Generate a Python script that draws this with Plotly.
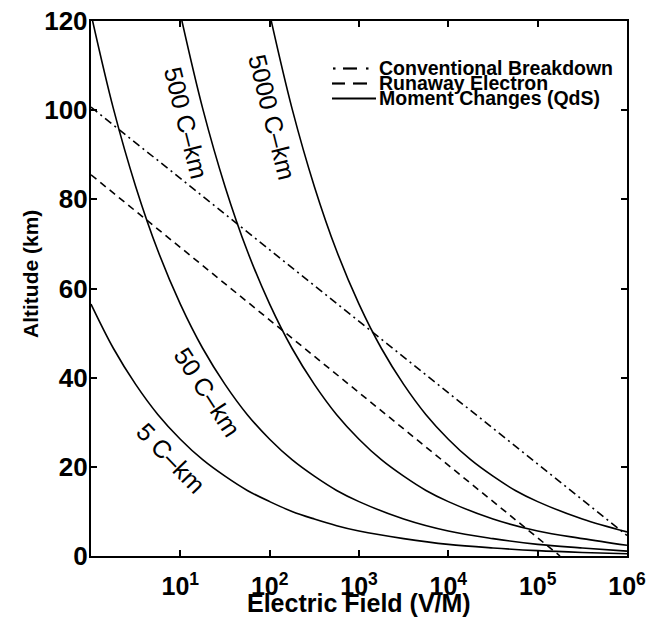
import math
import plotly.graph_objects as go

# ---- data ----
# Moment change curves (altitude in km vs electric field in V/m)
qds5_E = [1, 1.778, 3.162, 5.623, 10, 17.78, 31.62, 56.23, 100, 177.8, 316.2, 562.3,
          1000, 3162, 1e4, 3.162e4, 1e5, 3.162e5, 1e6]
qds5_h = [56.5, 46.6, 38.5, 31.7, 26.2, 21.6, 17.9, 14.7, 12.2, 10.0, 8.3, 6.8,
          5.6, 3.9, 2.6, 1.8, 1.2, 0.8, 0.5]

qds50_E = [1, 1.778, 3.162, 5.623, 10, 17.78, 31.62, 56.23, 100, 177.8, 316.2, 562.3,
           1000, 3162, 1e4, 3.162e4, 1e5, 3.162e5, 1e6]
qds50_h = [121.6, 100.4, 82.9, 68.4, 56.5, 46.6, 38.5, 31.7, 26.2, 21.6, 17.9, 14.7,
           12.2, 8.3, 5.6, 3.9, 2.6, 1.8, 1.1]

qds500_E = [10, 17.78, 31.62, 56.23, 100, 177.8, 316.2, 562.3, 1000, 1778, 3162, 5623,
            1e4, 3.162e4, 1e5, 3.162e5, 1e6]
qds500_h = [121.6, 100.4, 82.9, 68.4, 56.5, 46.6, 38.5, 31.7, 26.2, 21.6, 17.9, 14.7,
            12.2, 8.3, 5.6, 3.9, 2.4]

qds5000_E = [100, 177.8, 316.2, 562.3, 1000, 1778, 3162, 5623, 1e4, 1.778e4, 3.162e4,
             5.623e4, 1e5, 3.162e5, 1e6]
qds5000_h = [121.6, 100.4, 82.9, 68.4, 56.5, 46.6, 38.5, 31.7, 26.2, 21.6, 17.9,
             14.7, 12.2, 8.3, 5.4]

# Threshold lines
conv_E = [1, 1e6]
conv_h = [100.7, 4.6]
runaway_E = [1, 1.78e5]
runaway_h = [85.5, 0.0]

# Curve labels: text, field, altitude, angle
label_text = ["500 C\u2013km", "5000 C\u2013km", "50 C\u2013km", "5 C\u2013km"]
label_E = [11.6, 106, 20.0, 7.9]
label_h = [97.1, 98.4, 36.7, 22.0]
label_angle = [76, 76, 57, 46]

# Axis ticks
x_tickvals = [10, 100, 1000, 1e4, 1e5, 1e6]
x_ticktext = ["10<sup>1</sup>", "10<sup>2</sup>", "10<sup>3</sup>",
              "10<sup>4</sup>", "10<sup>5</sup>", "10<sup>6</sup>"]
y_tickvals = [0, 20, 40, 60, 80, 100, 120]

x_title = "Electric Field (V/M)"
y_title = "Altitude (km)"

# Legend entries
legend_text = ["Conventional Breakdown", "Runaway Electron", "Moment Changes (QdS)"]

FONT = "Liberation Sans, Arial, Helvetica, sans-serif"
LW = 1.6

# The page body adds an 8px offset; figure is sized so that the plot area
# lands at screen x 91..627, y 21..556.
OFF = 8
W, H = 658 - OFF, 623 - OFF
PL, PR, PT, PB = 91, 627, 21, 556   # screen coordinates of plot area


def px(x):
    return (x - PL) / (PR - PL)


def py(y):
    return (PB - y) / (PB - PT)


fig = go.Figure()
for E, h in [(qds5_E, qds5_h), (qds50_E, qds50_h), (qds500_E, qds500_h), (qds5000_E, qds5000_h)]:
    fig.add_trace(go.Scatter(x=E, y=h, mode="lines",
                             line=dict(color="black", width=LW, shape="spline", smoothing=1),
                             showlegend=False, hoverinfo="skip"))
fig.add_trace(go.Scatter(x=conv_E, y=conv_h, mode="lines",
                         line=dict(color="black", width=LW, dash="8px,4px,2px,4px"),
                         showlegend=False, hoverinfo="skip"))
fig.add_trace(go.Scatter(x=runaway_E, y=runaway_h, mode="lines",
                         line=dict(color="black", width=LW, dash="7px,5px"),
                         showlegend=False, hoverinfo="skip"))

for t, e, h, a in zip(label_text, label_E, label_h, label_angle):
    fig.add_annotation(x=math.log10(e), y=h, xref="x", yref="y", text=t, textangle=a,
                       showarrow=False, xanchor="center", yanchor="middle",
                       font=dict(family=FONT, size=25, color="black"))

# Manual legend
rows_y = [68.5, 83.5, 98.5]
segs = [
    [(333, 335.5), (343, 357), (366, 368.5)],
    [(332, 345), (353, 367)],
    [(332, 376)],
]
for ry, sl in zip(rows_y, segs):
    for x0, x1 in sl:
        fig.add_shape(type="line", xref="paper", yref="paper",
                      x0=px(x0), x1=px(x1), y0=py(ry), y1=py(ry),
                      line=dict(color="black", width=2.2))
for ry, t in zip(rows_y, legend_text):
    fig.add_annotation(x=px(377), y=py(ry), xref="paper", yref="paper", text=t,
                       showarrow=False, xanchor="left", yanchor="middle",
                       font=dict(family=FONT, size=19.5, color="black", weight="bold"))

# Axis titles
fig.add_annotation(x=px(359), y=py(603), xref="paper", yref="paper", text=x_title,
                   showarrow=False, xanchor="center", yanchor="middle",
                   font=dict(family=FONT, size=25, color="black", weight="bold"))
fig.add_annotation(x=px(30), y=py(274), xref="paper", yref="paper", text=y_title,
                   textangle=-90, showarrow=False, xanchor="center", yanchor="middle",
                   font=dict(family=FONT, size=21, color="black", weight="bold"))

axis_common = dict(showline=True, linewidth=2.4, linecolor="black", mirror="ticks",
                   ticks="inside", ticklen=6, tickwidth=1.5, tickcolor="black",
                   showgrid=False, zeroline=False, automargin=False,
                   ticklabeloverflow="allow")

fig.update_layout(
    width=W, height=H,
    margin=dict(l=PL - OFF, r=658 - PR, t=PT - OFF, b=623 - PB, pad=0),
    paper_bgcolor="white", plot_bgcolor="white",
    xaxis=dict(type="log", range=[0, 6], tickvals=x_tickvals, ticktext=x_ticktext,
               ticklabelstandoff=7,
               tickfont=dict(family=FONT, size=25, color="black", weight="bold"),
               **axis_common),
    yaxis=dict(range=[0, 120], tickvals=y_tickvals, ticklabelstandoff=-4,
               tickfont=dict(family=FONT, size=26, color="black", weight="bold"),
               **axis_common),
)

fig.write_html("out.html")
